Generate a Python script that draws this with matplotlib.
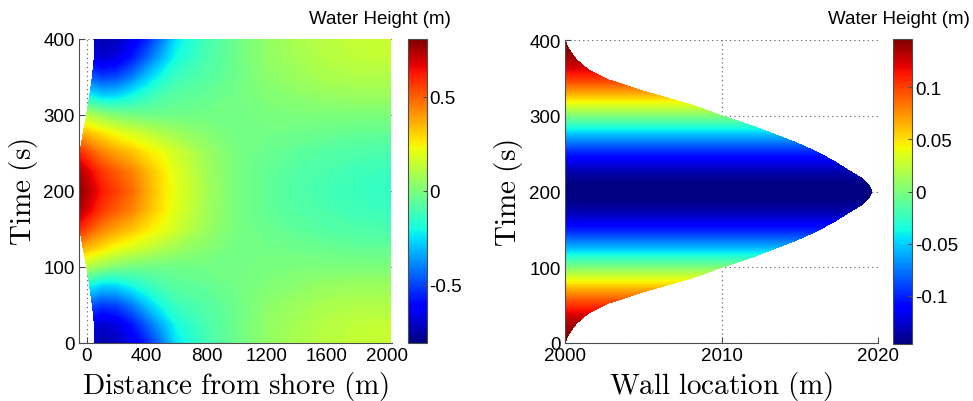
import numpy as np
import matplotlib.pyplot as plt
from matplotlib import cm, colors

plt.rcParams['font.family'] = ['Liberation Sans', 'DejaVu Sans']
plt.rcParams['mathtext.fontset'] = 'cm'
plt.rcParams['axes.unicode_minus'] = False

# --- run-up over one wave period (first half; second half mirrors it) ---
times_half = [0, 25, 50, 75, 100, 125, 150, 175, 200]
shore_x_half = [55, 51, 38, 20, 0, -24, -45, -60, -65]
offshore_x = [100, 200, 300, 400, 500, 600, 800, 1000, 1200, 1400, 1600, 1800, 2000]

# water height (m): first column at the moving shoreline, then offshore_x
heights_half = [
    [-0.72, -0.75, -0.73, -0.66, -0.56, -0.42, -0.25, -0.11, -0.03, 0.04, 0.09, 0.12, 0.14, 0.15],
    [-0.66, -0.70, -0.67, -0.58, -0.46, -0.33, -0.20, -0.10, -0.03, 0.04, 0.08, 0.11, 0.13, 0.14],
    [-0.48, -0.52, -0.50, -0.42, -0.30, -0.20, -0.13, -0.08, -0.03, 0.03, 0.06, 0.09, 0.10, 0.10],
    [-0.22, -0.28, -0.27, -0.21, -0.15, -0.10, -0.07, -0.05, -0.02, 0.01, 0.03, 0.05, 0.06, 0.06],
    [0.10, 0.04, 0.00, -0.02, -0.03, -0.03, -0.03, -0.02, -0.02, -0.01, 0.00, 0.00, 0.00, 0.00],
    [0.36, 0.28, 0.22, 0.18, 0.14, 0.10, 0.07, 0.02, -0.02, -0.02, -0.03, -0.04, -0.05, -0.05],
    [0.59, 0.44, 0.38, 0.33, 0.27, 0.22, 0.16, 0.06, -0.01, -0.04, -0.06, -0.08, -0.09, -0.10],
    [0.75, 0.57, 0.50, 0.44, 0.35, 0.27, 0.19, 0.07, -0.01, -0.05, -0.08, -0.10, -0.12, -0.13],
    [0.81, 0.62, 0.55, 0.48, 0.37, 0.28, 0.20, 0.08, -0.01, -0.05, -0.09, -0.11, -0.13, -0.14],
]

# --- wall displacement (m past 2000) and water height at the wall ---
wall_times_half = [0, 3, 8, 12, 18, 25, 32, 40, 45, 52, 58, 65, 71, 78, 84, 90, 100,
                   112, 124, 135, 146, 160, 168, 175, 181, 185, 190, 195, 200]
wall_x_half = [0, 0.05, 0.15, 0.25, 0.45, 0.7, 1.05, 1.55, 2.0, 2.7, 3.6, 4.6, 5.6, 6.8,
               7.8, 8.7, 10.0, 11.8, 13.3, 14.7, 15.9, 17.2, 17.8, 18.35, 18.85, 19.1,
               19.35, 19.52, 19.6]
wall_height_half = [0.146, 0.146, 0.145, 0.143, 0.140, 0.135, 0.128, 0.118, 0.111, 0.100,
                    0.089, 0.076, 0.065, 0.049, 0.036, 0.023, 0.0, -0.027, -0.054, -0.076,
                    -0.097, -0.118, -0.128, -0.135, -0.139, -0.142, -0.144, -0.146, -0.146]

left_lim = 0.81
right_lim = 0.146


def full_times(half):
    return np.array(half + [400 - t for t in reversed(half[:-1])], dtype=float)


def full_values(half):
    half = list(half)
    return np.array(half + half[-2::-1], dtype=float)


fig = plt.figure(figsize=(9.73, 4.02), dpi=100)

grid_kw = dict(color='0.35', linestyle=(0, (1, 3)), linewidth=0.8)

# ---------------- left: water height over the domain ----------------
t = full_times(times_half)
shore = full_values(shore_x_half)
H = full_values(heights_half)
n = len(t)
X = np.column_stack([shore, np.tile(offshore_x, (n, 1)), np.full(n, 2025.0)])
Z = np.column_stack([H, H[:, -1]])
Y = np.tile(t[:, None], (1, X.shape[1]))

ax1 = fig.add_axes([79 / 973, 58 / 402, 312.7 / 973, 304.5 / 402])
ax1.contourf(X, Y, Z, levels=np.linspace(-left_lim, left_lim, 321), cmap='jet',
             extend='both', antialiased=False)
ax1.set_xlim(-51, 2033)
ax1.set_ylim(0, 400)
ax1.set_xticks([0, 400, 800, 1200, 1600, 2000])
ax1.set_yticks([0, 100, 200, 300, 400])
ax1.set_xlabel(r'$\mathrm{Distance\ from\ shore\ (m)}$', fontsize=21)
ax1.set_ylabel(r'$\mathrm{Time\ (s)}$', fontsize=21)
ax1.yaxis.set_label_coords(-0.125, 0.5)
ax1.xaxis.set_label_coords(0.5, -0.085)

# ---------------- right: wall position ----------------
tw = full_times(wall_times_half)
wx = full_values(wall_x_half)
wh = full_values(wall_height_half)
Xw = np.column_stack([np.full(len(tw), 2000.0), 2000.0 + wx])
Yw = np.column_stack([tw, tw])
Zw = np.column_stack([wh, wh])

ax2 = fig.add_axes([565 / 973, 58 / 402, 313 / 973, 303 / 402])
ax2.contourf(Xw, Yw, Zw, levels=np.linspace(-right_lim, right_lim, 321), cmap='jet',
             extend='both', antialiased=False)
ax2.set_xlim(2000, 2020)
ax2.set_ylim(0, 400)
ax2.set_xticks([2000, 2010, 2020])
ax2.set_yticks([0, 100, 200, 300, 400])
ax2.set_xlabel(r'$\mathrm{Wall\ location\ (m)}$', fontsize=21)
ax2.set_ylabel(r'$\mathrm{Time\ (s)}$', fontsize=21)
ax2.yaxis.set_label_coords(-0.128, 0.5)
ax2.xaxis.set_label_coords(0.5, -0.085)

for ax in (ax1, ax2):
    ax.set_axisbelow(True)
    ax.grid(True, **grid_kw)
    ax.spines['top'].set_visible(False)
    ax.spines['right'].set_visible(False)
    for s in ('left', 'bottom'):
        ax.spines[s].set_color('0.3')
        ax.spines[s].set_linewidth(0.8)
    ax.tick_params(direction='in', length=4, width=0.8, color='0.3', labelsize=13.5, pad=3)

# ---------------- colorbars ----------------
cax1 = fig.add_axes([408 / 973, 58 / 402, 18.5 / 973, 304.5 / 402])
cb1 = fig.colorbar(cm.ScalarMappable(colors.Normalize(-left_lim, left_lim), cmap='jet'), cax=cax1)
cb1.set_ticks([-0.5, 0, 0.5])
cb1.set_ticklabels(['-0.5', '0', '0.5'])

cax2 = fig.add_axes([893 / 973, 57 / 402, 19 / 973, 305 / 402])
cb2 = fig.colorbar(cm.ScalarMappable(colors.Normalize(-right_lim, right_lim), cmap='jet'), cax=cax2)
cb2.set_ticks([-0.1, -0.05, 0, 0.05, 0.1])
cb2.set_ticklabels(['-0.1', '-0.05', '0', '0.05', '0.1'])

for cb in (cb1, cb2):
    cb.outline.set_edgecolor('0.3')
    cb.outline.set_linewidth(0.8)
    cb.ax.tick_params(direction='in', length=3, width=0.8, color='0.3', labelsize=13.5, pad=2)

fig.text(451 / 973, 1 - 19 / 402, 'Water Height (m)', ha='right', va='center', fontsize=13.5)
fig.text(970 / 973, 1 - 20 / 402, 'Water Height (m)', ha='right', va='center', fontsize=13.5)

fig.savefig('out.png', dpi=100)
